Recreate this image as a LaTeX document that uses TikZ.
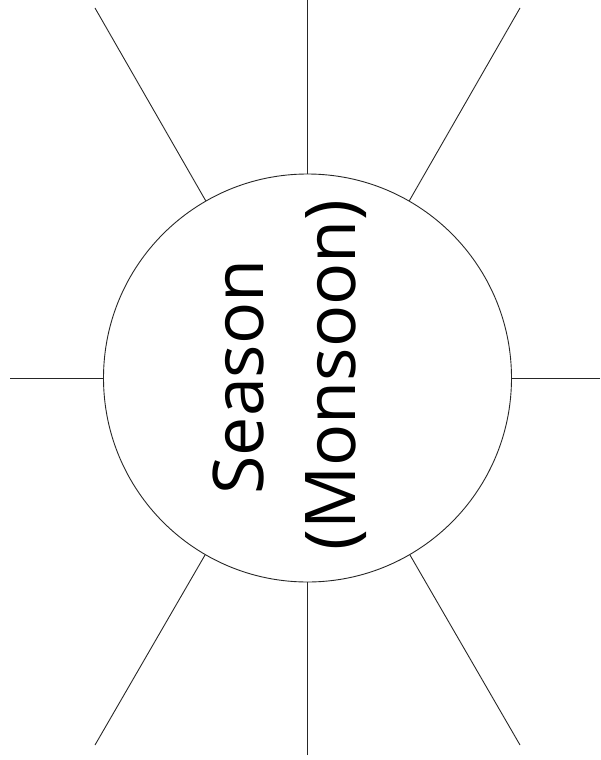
\documentclass[tikz,border=0pt]{standalone}
\usepackage{fontspec}
\setmainfont{Open Sans}
\begin{document}
\begin{tikzpicture}[x=1pt,y=-1pt,
  ray/.style={draw=black!85,line width=0.9pt},
  bigtext/.style={rotate=90,anchor=base,inner sep=0pt,font=\fontsize{70}{84}\selectfont}]
\useasboundingbox[fill=white] (0,0) rectangle (600,760);
\node[circle,draw=black!85,line width=0.9pt,minimum size=408pt,inner sep=0pt] (c) at (307.5,378) {};
\coordinate (t) at (307.5,0);
\coordinate (b) at (307.5,755);
\coordinate (l) at (10,378);
\coordinate (r) at (600,378);
\coordinate (tl) at (95,8);
\coordinate (tr) at (520,8);
\coordinate (bl) at (95,745);
\coordinate (br) at (520,745);
\foreach \p in {t,b,l,r,tl,tr,bl,br} \draw[ray] (\p) -- (c);
\node[bigtext] (s) at (263,377) {Season};
\node[bigtext] (m) at (355,375) {(Monsoon)};
\end{tikzpicture}
\end{document}
